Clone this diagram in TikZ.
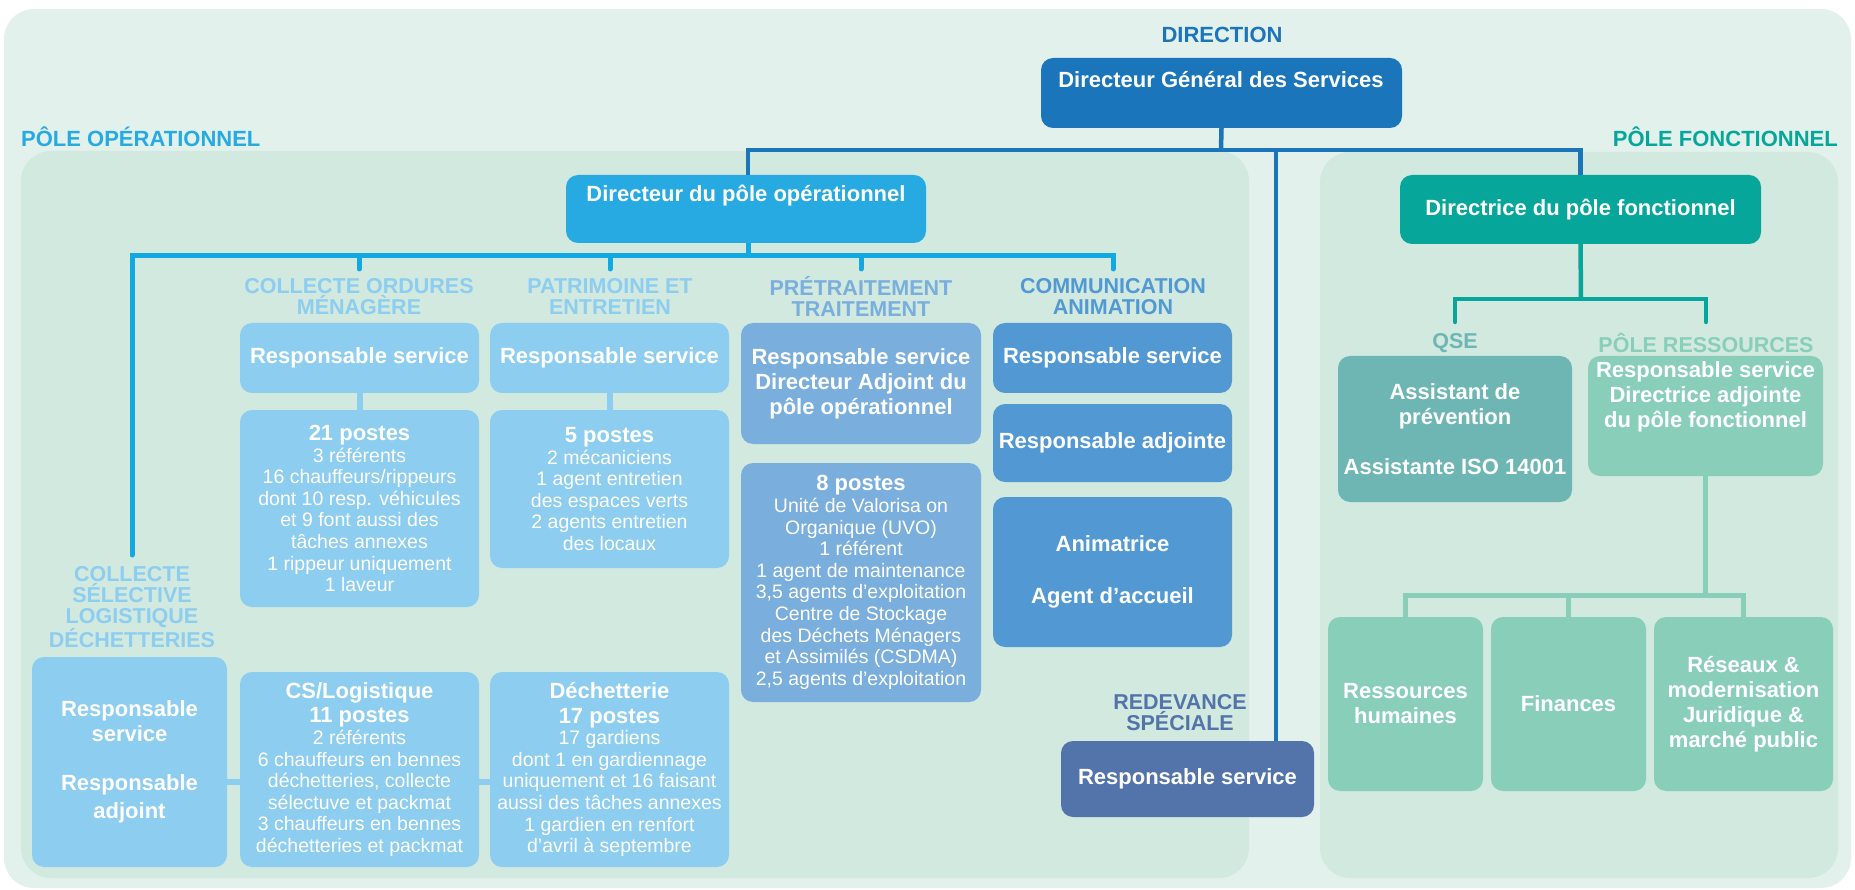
\documentclass[tikz,border=0pt]{standalone}
\usepackage{fontspec}
\setmainfont{Liberation Sans}
\definecolor{cBgO}{HTML}{E3F1EC}
\definecolor{cBgP}{HTML}{D1E9DF}
\definecolor{cDG}{HTML}{1B75BB}
\definecolor{cCy}{HTML}{27A9E1}
\definecolor{cCyL}{HTML}{12A8E2}
\definecolor{cLB}{HTML}{8DCDF0}
\definecolor{cPT}{HTML}{79AEDD}
\definecolor{cCM}{HTML}{5299D3}
\definecolor{cRD}{HTML}{5374AA}
\definecolor{cTeal}{HTML}{07A69A}
\definecolor{cQS}{HTML}{6EB6B4}
\definecolor{cRS}{HTML}{89CEB9}
\newcommand\ftTitle{\fontsize{22}{25}\selectfont\bfseries}
\newcommand\ftReg{\fontsize{19.5}{21.6}\selectfont}
\newcommand\ftHead{\fontsize{22}{22}\selectfont\bfseries}
\newcommand\ftSec{\fontsize{21.5}{21}\selectfont\bfseries}
\newcommand\placebox[7]{\node[#6, minimum width={(#4)-(#2)}, minimum height={(#5)-(#3)}] (#1) at ({((#2)+(#4))/2},{((#3)+(#5))/2}) {#7};}
\tikzset{
  bx/.style={rounded corners=12pt, inner sep=0pt, outer sep=0pt, align=center, text=white},
  ttl/.style={text=white, font=\ftTitle, align=center, inner sep=0pt},
  head/.style={font=\ftHead, inner sep=0pt},
  sec/.style={font=\ftSec, align=center, inner sep=0pt},
  dkline/.style={draw=cDG, line width=4.5pt},
  cyline/.style={draw=cCyL, line width=5pt},
  lbline/.style={draw=cLB, line width=6pt},
  tlline/.style={draw=cTeal, line width=4.5pt},
  rsline/.style={draw=cRS, line width=5pt}
}
\begin{document}
\begin{tikzpicture}[x=1pt,y=-1pt]
\useasboundingbox (0,0) rectangle (1855,890);
\fill[white] (0,0) rectangle (1855,890);
\fill[cBgO, rounded corners=30pt] (4,9) rectangle (1851,888);
\fill[cBgP, rounded corners=30pt] (21,151) rectangle (1249,878);
\fill[cBgP, rounded corners=30pt] (1320,152) rectangle (1838,878);

% headings
\node[head, text=cDG] (lDir) at (1222,35) {DIRECTION};
\node[head, text=cCy, anchor=west] (lPO) at (21,137) {PÔLE OPÉRATIONNEL};
\node[head, text=cTeal, anchor=east] (lPF) at (1838,137) {PÔLE FONCTIONNEL};

% top boxes
\placebox{dgs}{1041}{58}{1402}{128}{bx,fill=cDG}{}
\node[ttl] (dgsT) at (1221,80) {Directeur Général des Services};
\placebox{dpo}{566}{175}{926}{243}{bx,fill=cCy}{}
\node[ttl] (dpoT) at (746,196) {Directeur du pôle opérationnel};
\placebox{dfo}{1400}{175}{1761}{244}{bx,fill=cTeal,font=\ftTitle}{Directrice du pôle fonctionnel}

% section labels
\node[sec, text=cLB] (lCOM) at (359,296.5) {COLLECTE ORDURES\\ MÉNAGÈRE};
\node[sec, text=cLB] (lPAT) at (610,296.5) {PATRIMOINE ET\\ ENTRETIEN};
\node[sec, text=cPT] (lPRE) at (861,296.5) {PRÉTRAITEMENT\\ TRAITEMENT};
\node[sec, text=cCM] (lCMA) at (1113,296.5) {COMMUNICATION\\ ANIMATION};
\node[sec, text=cLB] (lCS) at (132,607) {COLLECTE\\ SÉLECTIVE\\ LOGISTIQUE\\ DÉCHETTERIES};
\node[sec, text=cRD] (lRED) at (1180,713) {REDEVANCE\\ SPÉCIALE};
\node[sec, text=cQS] (lQSE) at (1455,343) {QSE};
\node[sec, text=cRS] (lPR) at (1706,343) {PÔLE RESSOURCES};

% collecte ordures
\placebox{crs}{240}{323}{479}{393}{bx,fill=cLB,font=\ftTitle}{Responsable service}
\placebox{c21}{240}{410}{479}{607}{bx,fill=cLB,font=\ftReg}{{\ftTitle 21 postes}\\ 3 référents\\ 16 chauffeurs/rippeurs\\ dont 10 resp. véhicules\\ et 9 font aussi des\\ tâches annexes\\ 1 rippeur uniquement\\ 1 laveur}
% patrimoine
\placebox{prs}{490}{323}{729}{393}{bx,fill=cLB,font=\ftTitle}{Responsable service}
\placebox{p5}{490}{410}{729}{568}{bx,fill=cLB,font=\ftReg}{{\ftTitle 5 postes}\\ 2 mécaniciens\\ 1 agent entretien\\ des espaces verts\\ 2 agents entretien\\ des locaux}
% pretraitement
\placebox{trs}{741}{323}{981}{444}{bx,fill=cPT,font=\ftTitle}{Responsable service\\ Directeur Adjoint du\\ pôle opérationnel}
\placebox{t8}{741}{463}{981}{702}{bx,fill=cPT,font=\ftReg}{{\ftTitle 8 postes}\\ Unité de Valorisa on\\ Organique (UVO)\\ 1 référent\\ 1 agent de maintenance\\ 3,5 agents d'exploitation\\ Centre de Stockage\\ des Déchets Ménagers\\ et Assimilés (CSDMA)\\ 2,5 agents d'exploitation}
% communication
\placebox{m1}{993}{323}{1232}{393}{bx,fill=cCM,font=\ftTitle}{Responsable service}
\placebox{m2}{993}{404}{1232}{482}{bx,fill=cCM,font=\ftTitle}{Responsable adjointe}
\placebox{m3}{993}{497}{1232}{647}{bx,fill=cCM,font=\ftTitle}{Animatrice\\[27pt] Agent d'accueil}
% redevance
\placebox{red}{1061}{741}{1314}{817}{bx,fill=cRD,font=\ftTitle}{Responsable service}
% bottom left
\placebox{bl}{32}{657}{227}{867}{bx,fill=cLB,font=\ftTitle}{Responsable\\ service\\[24pt] Responsable\\[3pt] adjoint}
\placebox{cs}{240}{672}{479}{867}{bx,fill=cLB,font=\ftReg}{{\ftTitle CS/Logistique}\\[3pt] {\ftTitle 11 postes}\\ 2 référents\\ 6 chauffeurs en bennes\\ déchetteries, collecte\\ sélectuve et packmat\\ 3 chauffeurs en bennes\\ déchetteries et packmat}
\placebox{dch}{490}{672}{729}{867}{bx,fill=cLB,font=\ftReg}{{\ftTitle Déchetterie}\\[3pt] {\ftTitle 17 postes}\\ 17 gardiens\\ dont 1 en gardiennage\\ uniquement et 16 faisant\\ aussi des tâches annexes\\ 1 gardien en renfort\\ d'avril à septembre}
% right side
\placebox{qse}{1338}{356}{1572}{502}{bx,fill=cQS,font=\ftTitle}{Assistant de\\ prévention\\[25pt] Assistante ISO 14001}
\placebox{pr}{1588}{356}{1823}{476}{bx,fill=cRS}{}
\node[ttl] (prT) at (1705.5,397) {Responsable service\\ Directrice adjointe\\ du pôle fonctionnel};
\placebox{rh}{1328}{617}{1483}{791}{bx,fill=cRS,font=\ftTitle}{Ressources\\ humaines}
\placebox{fin}{1491}{617}{1646}{791}{bx,fill=cRS,font=\ftTitle}{Finances}
\placebox{res}{1654}{617}{1833}{791}{bx,fill=cRS,font=\ftTitle}{Réseaux \&\\ modernisation\\ Juridique \&\\ marché public}

% coordinates
\coordinate (busTop) at (1221,150);
\coordinate (redTop) at (1276,741);
\coordinate (cbus) at (748,256);
\coordinate (cL) at (132,555);
\coordinate (t1) at (359,269);
\coordinate (t2) at (610,269);
\coordinate (t3) at (861,269);
\coordinate (t4) at (1113,269);
\coordinate (tbus) at (1581,299);
\coordinate (qseTop) at (1455,322);
\coordinate (prTop) at (1706,322);
\coordinate (rbus) at (1706,595);
\coordinate (conn) at (0,782);

% dark blue connectors
\draw[dkline] (dgs.south) -- (busTop);
\draw[dkline] (dpo.north -| cbus) |- (busTop) -| (dfo.north);
\draw[dkline] (busTop -| redTop) -- (redTop);
% cyan connectors
\draw[cyline] (dpo.south -| cbus) -- (cbus);
\draw[cyline, line cap=round] (cL) |- (t4 |- cbus) -- (t4);
\draw[cyline, line cap=round] (t1 |- cbus) -- (t1);
\draw[cyline, line cap=round] (t2 |- cbus) -- (t2);
\draw[cyline, line cap=round] (t3 |- cbus) -- (t3);
% light blue connectors
\draw[lbline] (crs.south) -- (c21.north);
\draw[lbline] (prs.south) -- (p5.north);
\draw[lbline] (bl.east |- conn) -- (cs.west |- conn);
\draw[lbline] (cs.east |- conn) -- (dch.west |- conn);
% teal connectors
\draw[tlline] (dfo.south) -- (tbus);
\draw[tlline, line cap=round] (qseTop) |- (prTop |- tbus) -- (prTop);
% ressources connectors
\draw[rsline] (pr.south) -- (pr.south |- rbus);
\draw[rsline] (rh.north) |- (res.north |- rbus) -- (res.north);
\draw[rsline] (fin.north) -- (fin.north |- rbus);
\end{tikzpicture}
\end{document}
